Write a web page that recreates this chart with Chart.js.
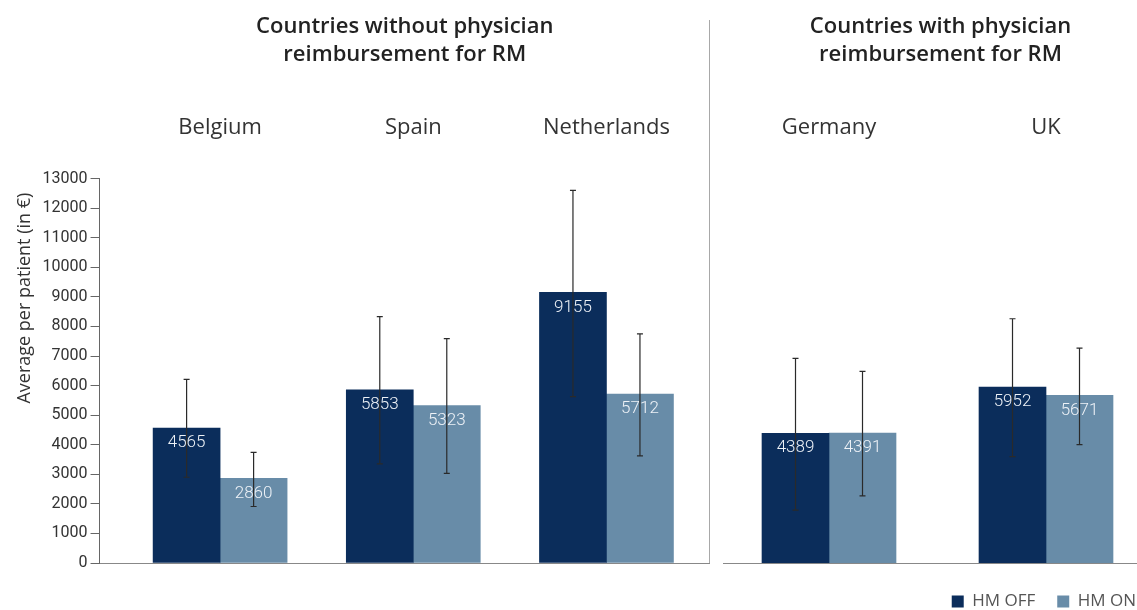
<!DOCTYPE html>
<html>
<head>
<meta charset="utf-8">
<title>Average cost per patient, HM OFF / HM ON</title>
<script src="https://cdn.jsdelivr.net/npm/chart.js@4.4.0/dist/chart.umd.min.js"></script>
<style>
  html, body { margin: 0; padding: 0; background: #fff; overflow: hidden; }
  #page { position: relative; width: 1137px; height: 610px; overflow: hidden; }
  #leftBox { position: absolute; left: 0; top: 0; width: 710px; height: 620px; }
  #rightBox { position: absolute; left: 712px; top: 0; width: 446px; height: 620px; }
  #divider { position: absolute; left: 709px; top: 20px; width: 1px; height: 543px; background: #a8a8a8; }
</style>
</head>
<body>
<div id="page">
  <div id="leftBox"><canvas id="leftChart"></canvas></div>
  <div id="divider"></div>
  <div id="rightBox"><canvas id="rightChart"></canvas></div>
</div>
<script>
// data
var leftTitle = ['Countries without physician', 'reimbursement for RM'];
var rightTitle = ['Countries with physician', 'reimbursement for RM'];
var leftCountries = ['Belgium', 'Spain', 'Netherlands'];
var rightCountries = ['Germany', 'UK'];
var seriesNames = ['HM OFF', 'HM ON'];
var seriesColors = ['#0b2d5b', '#688ca8'];

var hmOffLeft = [4565, 5853, 9155];
var hmOnLeft = [2860, 5323, 5712];
var hmOffRight = [4389, 5952];
var hmOnRight = [4391, 5671];

// error bars [low, high]
var errOffLeft = [[2900, 6210], [3350, 8330], [5630, 12600]];
var errOnLeft = [[1910, 3740], [3030, 7590], [3620, 7750]];
var errOffRight = [[1790, 6920], [3600, 8260]];
var errOnRight = [[2270, 6480], [4000, 7270]];

var yMin = 0;
var yMax = 13000;
var yStep = 1000;
var yTitle = 'Average per patient (in €)\u00a0\u00a0\u00a0';

Chart.defaults.font.family = 'Roboto, "DejaVu Sans", sans-serif';
Chart.defaults.color = '#333';
var wideFont = '"Open Sans", Roboto, sans-serif';

function points(values) {
    return values.map(function (v, i) { return { x: i, y: v }; });
}

// values in white near the top of each bar, then the error bars over them
var barExtras = {
    id: 'barExtras',
    afterDatasetsDraw: function (chart) {
        var ctx = chart.ctx;
        var yScale = chart.scales.y;
        chart.data.datasets.forEach(function (ds, d) {
            var meta = chart.getDatasetMeta(d);
            meta.data.forEach(function (bar, i) {
                ctx.save();
                ctx.fillStyle = '#eef2f7';
                ctx.font = '300 17px Roboto';
                ctx.textAlign = 'center';
                ctx.textBaseline = 'middle';
                ctx.fillText(String(ds.data[i].y), bar.x, bar.y + 15);
                ctx.restore();
            });
        });
        chart.data.datasets.forEach(function (ds, d) {
            var meta = chart.getDatasetMeta(d);
            meta.data.forEach(function (bar, i) {
                var lo = yScale.getPixelForValue(ds.errors[i][0]);
                var hi = yScale.getPixelForValue(ds.errors[i][1]);
                ctx.save();
                ctx.strokeStyle = '#2a2a2a';
                ctx.lineWidth = 1.2;
                ctx.beginPath();
                ctx.moveTo(bar.x, lo); ctx.lineTo(bar.x, hi);
                ctx.moveTo(bar.x - 3, lo); ctx.lineTo(bar.x + 3, lo);
                ctx.moveTo(bar.x - 3, hi); ctx.lineTo(bar.x + 3, hi);
                ctx.stroke();
                ctx.restore();
            });
        });
    }
};

function makeChart(canvasId, title, countries, off, on, errOff, errOn, xMin, xMax, isLeft) {
    var config = {
        type: 'bar',
        data: {
            datasets: [{
                label: seriesNames[0],
                data: points(off),
                errors: errOff,
                backgroundColor: seriesColors[0],
                barThickness: 67
            }, {
                label: seriesNames[1],
                data: points(on),
                errors: errOn,
                backgroundColor: seriesColors[1],
                barThickness: 67
            }]
        },
        options: {
            responsive: true,
            maintainAspectRatio: false,
            animation: false,
            layout: {
                padding: { left: isLeft ? 10 : 11, right: 0, top: 0, bottom: isLeft ? 49 : 0 }
            },
            plugins: {
                tooltip: { enabled: false },
                title: {
                    display: true,
                    text: title,
                    fullSize: false,
                    color: '#222',
                    font: { family: wideFont, size: 22, weight: '600', lineHeight: 1.3 },
                    padding: { top: 12, bottom: 15 }
                },
                legend: {
                    display: !isLeft,
                    position: 'bottom',
                    align: 'end',
                    labels: {
                        boxWidth: 12,
                        boxHeight: 12,
                        padding: 22,
                        color: '#555',
                        font: { family: wideFont, size: 17 }
                    }
                }
            },
            scales: {
                x: {
                    type: 'linear',
                    position: 'top',
                    offset: false,
                    bounds: 'data',
                    min: xMin,
                    max: xMax,
                    grid: { display: false },
                    border: { display: false },
                    afterBuildTicks: function (axis) {
                        axis.ticks = countries.map(function (c, i) { return { value: i }; });
                    },
                    ticks: {
                        autoSkip: false,
                        maxRotation: 0,
                        padding: 30,
                        color: '#333',
                        font: { family: wideFont, size: 22 },
                        callback: function (v) { return countries[v]; }
                    }
                },
                base: {
                    type: 'linear',
                    position: 'bottom',
                    offset: false,
                    bounds: 'data',
                    min: xMin,
                    max: xMax,
                    grid: { display: false },
                    ticks: { display: false },
                    border: { display: true, color: '#888', width: 1 }
                },
                y: {
                    display: isLeft,
                    min: yMin,
                    max: yMax,
                    grid: { drawOnChartArea: false, tickLength: 9, color: '#666' },
                    border: { color: '#666' },
                    ticks: {
                        stepSize: yStep,
                        padding: 3,
                        color: '#333',
                        font: { size: 16 },
                        callback: function (v) { return String(v); }
                    },
                    title: {
                        display: true,
                        text: yTitle,
                        align: 'end',
                        color: '#333',
                        font: { family: wideFont, size: 18 },
                        padding: { bottom: 4 }
                    }
                }
            }
        },
        plugins: [barExtras]
    };
    var ctx = document.getElementById(canvasId).getContext('2d');
    return new Chart(ctx, config);
}

var leftChart = makeChart('leftChart', leftTitle, leftCountries, hmOffLeft, hmOnLeft,
    errOffLeft, errOnLeft, -0.624, 2.536, true);
var rightChart = makeChart('rightChart', rightTitle, rightCountries, hmOffRight, hmOnRight,
    errOffRight, errOnRight, -0.4885, 1.5161, false);
</script>
</body>
</html>
